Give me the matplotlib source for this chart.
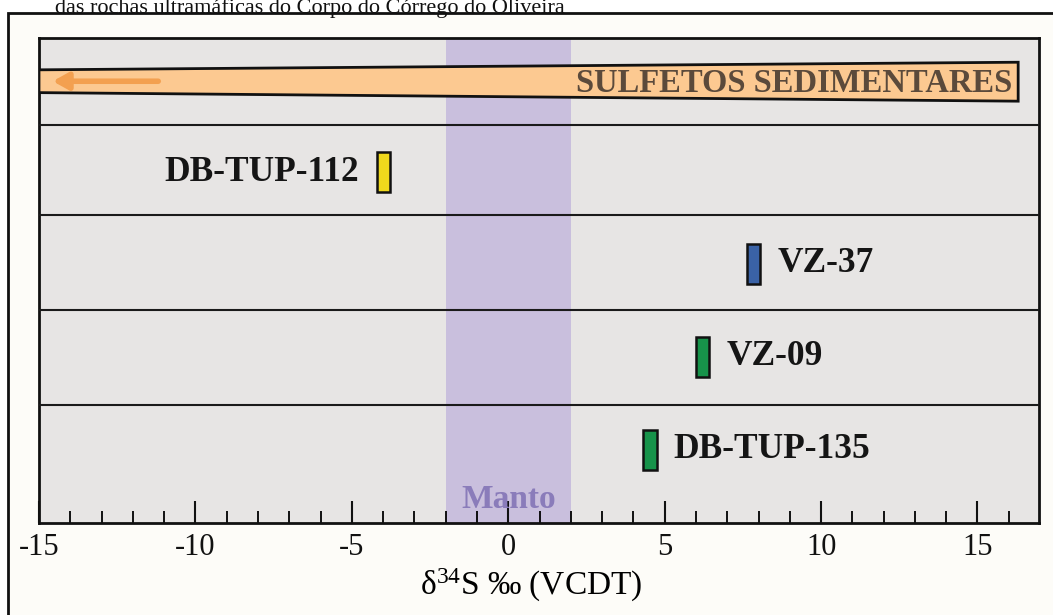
import numpy as np
import matplotlib
matplotlib.use("Agg")
import matplotlib.pyplot as plt
from matplotlib.patches import Polygon, Rectangle

plt.rcParams['font.family'] = ['Liberation Serif', 'DejaVu Serif']
plt.rcParams['axes.unicode_minus'] = False
plt.rcParams['mathtext.fontset'] = 'custom'
plt.rcParams['mathtext.rm'] = 'Liberation Serif'

# samples: d34S value, row centre, colour
samples = ["DB-TUP-112", "VZ-37", "VZ-09", "DB-TUP-135"]
d34s = [-4.0, 7.85, 6.22, 4.53]
rows = [3.69, 2.73, 1.75, 0.77]
colors = ["#efd81c", "#3a62a6", "#17934a", "#17934a"]
label_side = ["left", "right", "right", "right"]

row_lines = [1.24, 2.24, 3.24, 4.19]
mantle = (-2, 2)
sulf_end = 16.3

fig = plt.figure(figsize=(10.53, 6.15), dpi=100)
fig.patch.set_facecolor("white")

# outer frame of the page
fig.patches.append(Rectangle((8/1053, -0.01), 1.02, 1 - 13/615 + 0.01,
                             transform=fig.transFigure, facecolor="#fdfcf8",
                             edgecolor="#111111", lw=2, zorder=-5))
fig.text(55/1053, 1 - 12.5/615, "das rochas ultramáficas do Corpo do Córrego do Oliveira",
         fontsize=16, va="baseline", ha="left", color="#111111")

ax = fig.add_axes([39/1053, 92/615, 999.5/1053, 485/615])
ax.set_facecolor("#e7e5e4")
ax.set_xlim(-15, 16.95)
ax.set_ylim(0, 5.105)

ax.axvspan(mantle[0], mantle[1], color="#c9bfdd", zorder=1, lw=0)
ax.text(0, 0.25, "Manto", ha="center", va="center", fontsize=24,
        fontweight="bold", color="#8a7cba", zorder=2)

for y in row_lines:
    ax.axhline(y, color="#1a1a1a", lw=1.5, zorder=3)

# sedimentary sulfide band
band = Polygon([(-15, 4.77), (sulf_end, 4.85), (sulf_end, 4.44), (-15, 4.53)],
               closed=True, facecolor="#fcc991", edgecolor="#111111", lw=2, zorder=4)
ax.add_patch(band)
ax.annotate("", xy=(-14.65, 4.65), xytext=(-11.1, 4.65),
            arrowprops=dict(arrowstyle="-|>,head_length=0.9,head_width=0.5",
                            color="#f3a050", lw=4), zorder=5)
ax.text(sulf_end - 0.2, 4.63, "SULFETOS SEDIMENTARES", ha="right", va="center",
        fontsize=23.5, fontweight="bold", color="#5b4a3b", zorder=5)

w = 0.42
h = 0.42
for name, x, y, c, side in zip(samples, d34s, rows, colors, label_side):
    ax.add_patch(Rectangle((x - w/2, y - h/2), w, h, facecolor=c,
                           edgecolor="#111111", lw=1.8, zorder=6))
    if side == "left":
        ax.text(x - w/2 - 0.55, y, name, ha="right", va="center", fontsize=25.5,
                fontweight="bold", color="#151515", zorder=6)
    else:
        ax.text(x + w/2 + 0.55, y, name, ha="left", va="center", fontsize=25.5,
                fontweight="bold", color="#151515", zorder=6)

ax.set_xticks(np.arange(-15, 16, 5))
ax.set_xticks(np.arange(-14, 17, 1), minor=True)
ax.set_yticks([])
ax.tick_params(axis="x", which="major", direction="in", length=16, width=1.5,
               labelsize=22, pad=7, colors="#111111")
ax.tick_params(axis="x", which="minor", direction="in", length=9, width=1.3)
for s in ax.spines.values():
    s.set_linewidth(2)
    s.set_color("#111111")
ax.set_xlabel(r"$\mathregular{δ^{34}}$S ‰ (VCDT)", fontsize=24, labelpad=0)
ax.xaxis.set_label_coords(0.492, -0.09)

fig.savefig("out.png", dpi=100, facecolor=fig.get_facecolor())
